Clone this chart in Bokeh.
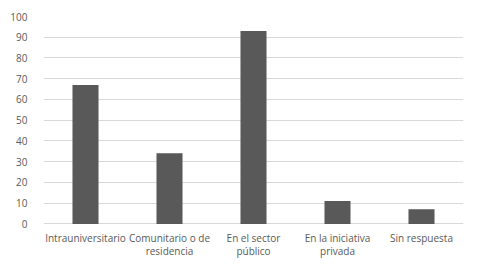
from bokeh.plotting import figure
from bokeh.models import FactorRange, ColumnDataSource, FixedTicker
from bokeh.core.properties import value
from bokeh.embed import file_html
from bokeh.resources import INLINE

categories = ["Intrauniversitario", "Comunitario o de residencia", "En el sector público",
              "En la iniciativa privada", "Sin respuesta"]
label_lines = [["Intrauniversitario"], ["Comunitario o de", "residencia"], ["En el sector", "público"],
               ["En la iniciativa", "privada"], ["Sin respuesta"]]
values = [67, 34, 93, 11, 7]
y_ticks = [0, 10, 20, 30, 40, 50, 60, 70, 80, 90, 100]

src = ColumnDataSource(dict(cat=categories, val=values))

p = figure(x_range=FactorRange(*categories), y_range=(-22, 100),
           width=476, height=269, output_backend="svg", toolbar_location=None,
           min_border_left=43, min_border_right=13, min_border_top=16, min_border_bottom=0)
p.vbar(x="cat", top="val", width=0.31, source=src, fill_color="#595959", line_color=None)

# category labels (two-line where needed), drawn below the zero line
lx, ly, lt = [], [], []
for cat, lines in zip(categories, label_lines):
    for j, t in enumerate(lines):
        lx.append(cat)
        ly.append(-6.8 - 6.3 * j)
        lt.append(t)
p.text(x=lx, y=ly, text=lt, text_align="center", text_baseline="middle",
       text_font=value("Open Sans"), text_font_size="10px", text_color="#595959")

p.outline_line_color = None
p.background_fill_color = "white"
p.border_fill_color = "white"
p.x_range.range_padding = 0

p.yaxis.ticker = FixedTicker(ticks=y_ticks)
p.yaxis.axis_line_color = None
p.yaxis.major_tick_line_color = None
p.yaxis.minor_tick_line_color = None
p.yaxis.major_label_text_font = "Open Sans"
p.yaxis.major_label_text_font_size = "10px"
p.yaxis.major_label_text_color = "#595959"
p.yaxis.major_label_standoff = 10

p.xaxis.visible = False

p.xgrid.grid_line_color = None
p.ygrid.grid_line_color = "#d9d9d9"

open("out.html", "w").write(file_html(p, INLINE))
